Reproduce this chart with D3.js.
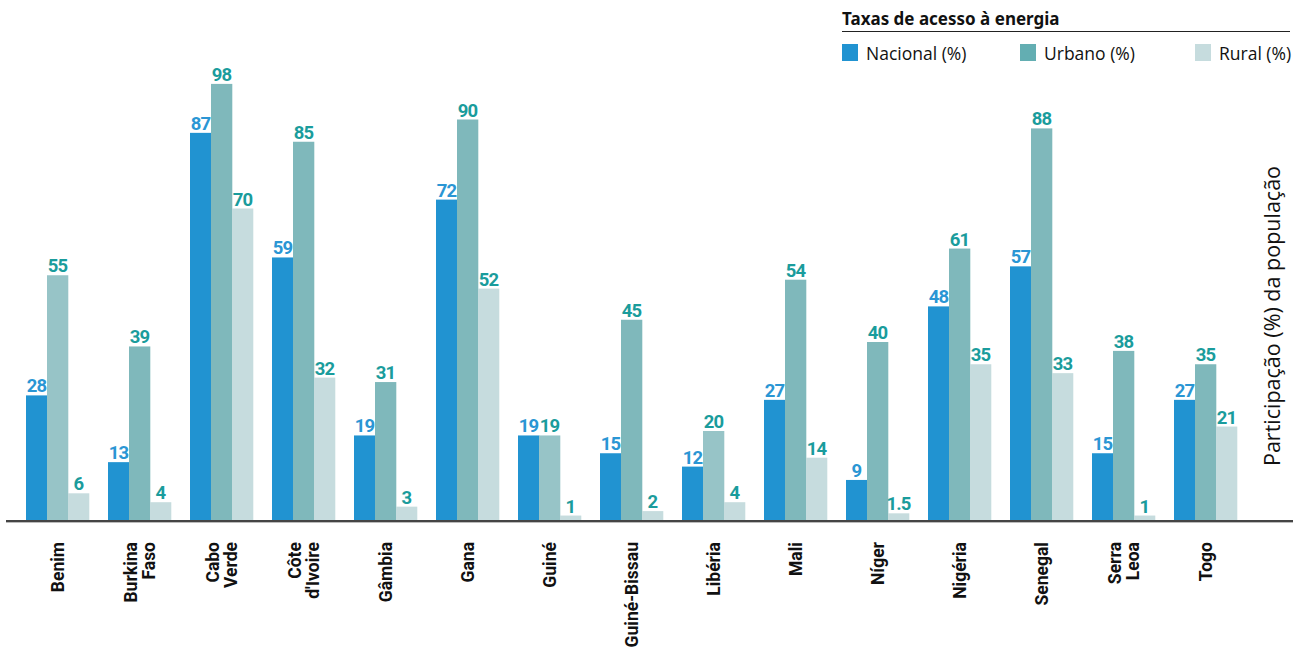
<!DOCTYPE html>
<html>
<head>
<meta charset="utf-8">
<script src="https://cdn.jsdelivr.net/npm/d3@7"></script>
<style>
    body { margin: 0; background: #fff; }
    svg { display: block; }
</style>
</head>
<body>
<script>
'use strict';

// country names (\n = line break in the axis label)
const paises = ["Benim", "Burkina\nFaso", "Cabo\nVerde", "Côte\nd'Ivoire", "Gâmbia", "Gana", "Guiné",
    "Guiné-Bissau", "Libéria", "Mali", "Níger", "Nigéria", "Senegal", "Serra\nLeoa", "Togo"];

const nacional = [28, 13, 87, 59, 19, 72, 19, 15, 12, 27, 9, 48, 57, 15, 27];
const urbano = [55, 39, 98, 85, 31, 90, 19, 45, 20, 54, 40, 61, 88, 38, 35];
const rural = [6, 4, 70, 32, 3, 52, 1, 2, 4, 14, 1.5, 35, 33, 1, 21];

// urban bars drawn in the lighter tone in the original
const urbanoClaro = ["Benim", "Guiné", "Libéria"];

const series = ["Nacional (%)", "Urbano (%)", "Rural (%)"];

(function() {

    const W = 1306, H = 648;
    const cores = ["#2193d1", "#7fb8bb", "#c6dcde"];
    const corClara = "#97c4c7";
    const corTexto = ["#2a96d4", "#1a9c9c", "#1a9c9c"];
    const numFont = "'Liberation Sans Narrow', 'Roboto', sans-serif";

    const svg = d3.select("body").append("svg")
        .attr("width", W)
        .attr("height", H);

    // groups: 63 px wide, one every 82 px
    const x0 = d3.scaleBand()
        .domain(paises)
        .range([26, 1237])
        .paddingInner(19 / 82)
        .paddingOuter(0);
    const grpW = x0.bandwidth();

    const x1 = d3.scaleBand()
        .domain(d3.range(3))
        .range([0, grpW]);

    const y = d3.scaleLinear()
        .domain([0, 100])
        .range([520, 75]);

    const valores = paises.map((p, i) => [nacional[i], urbano[i], rural[i]]);

    const grupos = svg.append("g").selectAll("g")
        .data(paises)
        .enter()
        .append("g")
        .attr("transform", (d) => "translate(" + x0(d) + ",0)");

    grupos.selectAll("rect")
        .data((d, i) => valores[i].map((v, k) => ({ pais: d, v: v, k: k })))
        .enter()
        .append("rect")
        .attr("x", (d) => x1(d.k))
        .attr("width", x1.bandwidth() + 0.3)
        .attr("y", (d) => y(d.v))
        .attr("height", (d) => y(0) - y(d.v))
        .attr("fill", (d) => (d.k === 1 && urbanoClaro.includes(d.pais)) ? corClara : cores[d.k]);

    // value labels
    grupos.selectAll("text.val")
        .data((d, i) => valores[i].map((v, k) => ({ v: v, k: k })))
        .enter()
        .append("text")
        .attr("class", "val")
        .attr("x", (d) => x1(d.k) + x1.bandwidth() / 2)
        .attr("y", (d) => y(d.v) - 3)
        .attr("text-anchor", "middle")
        .attr("font-family", numFont)
        .attr("font-weight", "bold")
        .attr("font-size", "18.5px")
        .attr("letter-spacing", "-0.8px")
        .attr("fill", (d) => corTexto[d.k])
        .text((d) => String(d.v));

    // baseline
    svg.append("line")
        .attr("x1", 6).attr("x2", 1293)
        .attr("y1", 521).attr("y2", 521)
        .attr("stroke", "#444")
        .attr("stroke-width", 2);
    svg.append("line")
        .attr("x1", 6).attr("x2", 1293)
        .attr("y1", 522.5).attr("y2", 522.5)
        .attr("stroke", "#bbb")
        .attr("stroke-width", 1);

    // country labels, rotated
    grupos.each(function(d) {
        const linhas = d.split("\n");
        const cx = grpW / 2;
        const lh = 18;
        const t = d3.select(this).append("text")
            .attr("transform", "translate(" + cx + ",542) rotate(-90)")
            .attr("text-anchor", "end")
            .attr("font-family", numFont)
            .attr("font-weight", "bold")
            .attr("font-size", "17.5px")
            .attr("fill", "#111");
        linhas.forEach((l, j) => {
            const off = (j - (linhas.length - 1) / 2) * lh + 6;
            t.append("tspan")
                .attr("x", 0)
                .attr("y", off)
                .text(l);
        });
    });

    // y axis title
    svg.append("text")
        .attr("transform", "translate(1280,316) rotate(-90)")
        .attr("text-anchor", "middle")
        .attr("font-family", "'Open Sans', sans-serif")
        .attr("font-size", "21.5px")
        .attr("fill", "#111")
        .text("Participação (%) da população");

    // legend
    svg.append("text")
        .attr("x", 842)
        .attr("y", 25)
        .attr("font-family", "'Noto Sans', sans-serif")
        .attr("font-weight", "bold")
        .attr("font-size", "17px")
        .attr("fill", "#111")
        .text("Taxas de acesso à energia");

    svg.append("line")
        .attr("x1", 842).attr("x2", 1290)
        .attr("y1", 31.5).attr("y2", 31.5)
        .attr("stroke", "#222")
        .attr("stroke-width", 1);

    const legX = [842, 1020, 1195];
    const leg = svg.append("g").selectAll("g")
        .data(series)
        .enter()
        .append("g")
        .attr("transform", (d, i) => "translate(" + legX[i] + ",44)");

    leg.append("rect")
        .attr("width", 16)
        .attr("height", 17)
        .attr("fill", (d, i) => i === 1 ? "#63aeb2" : cores[i]);

    leg.append("text")
        .attr("x", 24)
        .attr("y", 15.5)
        .attr("font-family", "'Open Sans', sans-serif")
        .attr("font-size", "17.5px")
        .attr("fill", "#111")
        .text((d) => d);

})();
</script>
</body>
</html>
